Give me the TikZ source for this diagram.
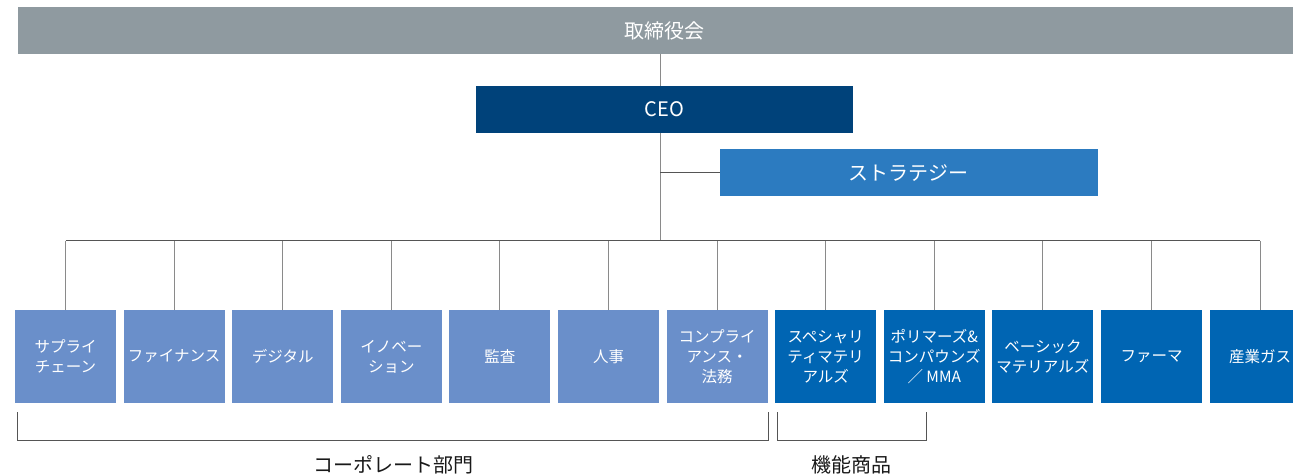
\documentclass[tikz,border=0pt]{standalone}
\usepackage{fontspec}
\setmainfont{Noto Sans CJK JP}
\usepackage{tikz}
\usetikzlibrary{positioning}

\definecolor{boardgray}{HTML}{8F9AA0}
\definecolor{ceoblue}{HTML}{00427A}
\definecolor{stratblue}{HTML}{2C7BC0}
\definecolor{corpblue}{HTML}{6A8FCA}
\definecolor{bizblue}{HTML}{0065B3}
\definecolor{linegray}{HTML}{8A8A8A}
\definecolor{busgray}{HTML}{555555}

\begin{document}
\begin{tikzpicture}[x=1pt, y=-1pt,
  head/.style={fill=#1, text=white, inner sep=0pt, outer sep=0pt,
    minimum height=47pt, font=\fontsize{20}{24}\selectfont},
  unit/.style={fill=#1, text=white, inner sep=0pt, outer sep=0pt,
    align=center, minimum width=101pt, minimum height=93pt,
    font=\fontsize{15.5}{20}\selectfont},
  link/.style={draw=linegray, line width=1pt},
  bus/.style={draw=busgray, line width=1.2pt},
  bracket/.style={draw=busgray, line width=0.9pt},
  group/.style={text=black!90, font=\fontsize{20}{24}\selectfont}]
\path[use as bounding box, clip] (0,0) rectangle (1293,476);

\node[head=boardgray, minimum width=1292pt] (board) at (664,30.75) {取締役会};
\node[head=ceoblue, minimum width=377pt] (ceo) at (664.5,109.5) {CEO};
\node[head=stratblue, minimum width=378pt] (strat) at (908.8,172.8) {ストラテジー};

\node[unit=corpblue] (b1) at (65.5,356.5) {サプライ\\チェーン};
\node[unit=corpblue, right=7.6pt of b1] (b2) {ファイナンス};
\node[unit=corpblue, right=7.6pt of b2] (b3) {デジタル};
\node[unit=corpblue, right=7.6pt of b3] (b4) {イノベー\\ション};
\node[unit=corpblue, right=7.6pt of b4] (b5) {監査};
\node[unit=corpblue, right=7.6pt of b5] (b6) {人事};
\node[unit=corpblue, right=7.6pt of b6] (b7) {コンプライ\\アンス・\\法務};
\node[unit=bizblue, right=7.6pt of b7] (b8) {スペシャリ\\ティマテリ\\アルズ};
\node[unit=bizblue, right=7.6pt of b8] (b9) {ポリマーズ\&\\コンパウンズ\\／ MMA};
\node[unit=bizblue, right=7.6pt of b9] (b10) {ベーシック\\マテリアルズ};
\node[unit=bizblue, right=7.6pt of b10] (b11) {ファーマ};
\node[unit=bizblue, right=7.6pt of b11] (b12) {産業ガス};

% trunk and bus
\coordinate (trunk) at (660,240.5);
\draw[link] (trunk |- board.south) -- (trunk |- ceo.north);
\draw[link] (trunk |- ceo.south) -- (trunk);
\draw[bus] (trunk |- strat.west) -- (strat.west);
\foreach \i in {1,...,12}
  \draw[link] (b\i.north) -- (b\i.north |- trunk);
\draw[bus] (b1.north |- trunk) -- (b12.north |- trunk);

% groups
\coordinate (corpL) at (17.5,412);
\coordinate (corpR) at (768.5,412);
\coordinate (funcL) at (777,412);
\coordinate (funcR) at (926,412);
\draw[bracket] (corpL) -- ++(0,28) -| (corpR);
\draw[bracket] (funcL) -- ++(0,28) -| (funcR);
\node[group] (corp) at (393,465) {コーポレート部門};
\node[group] (func) at (851,465) {機能商品};
\end{tikzpicture}
\end{document}
